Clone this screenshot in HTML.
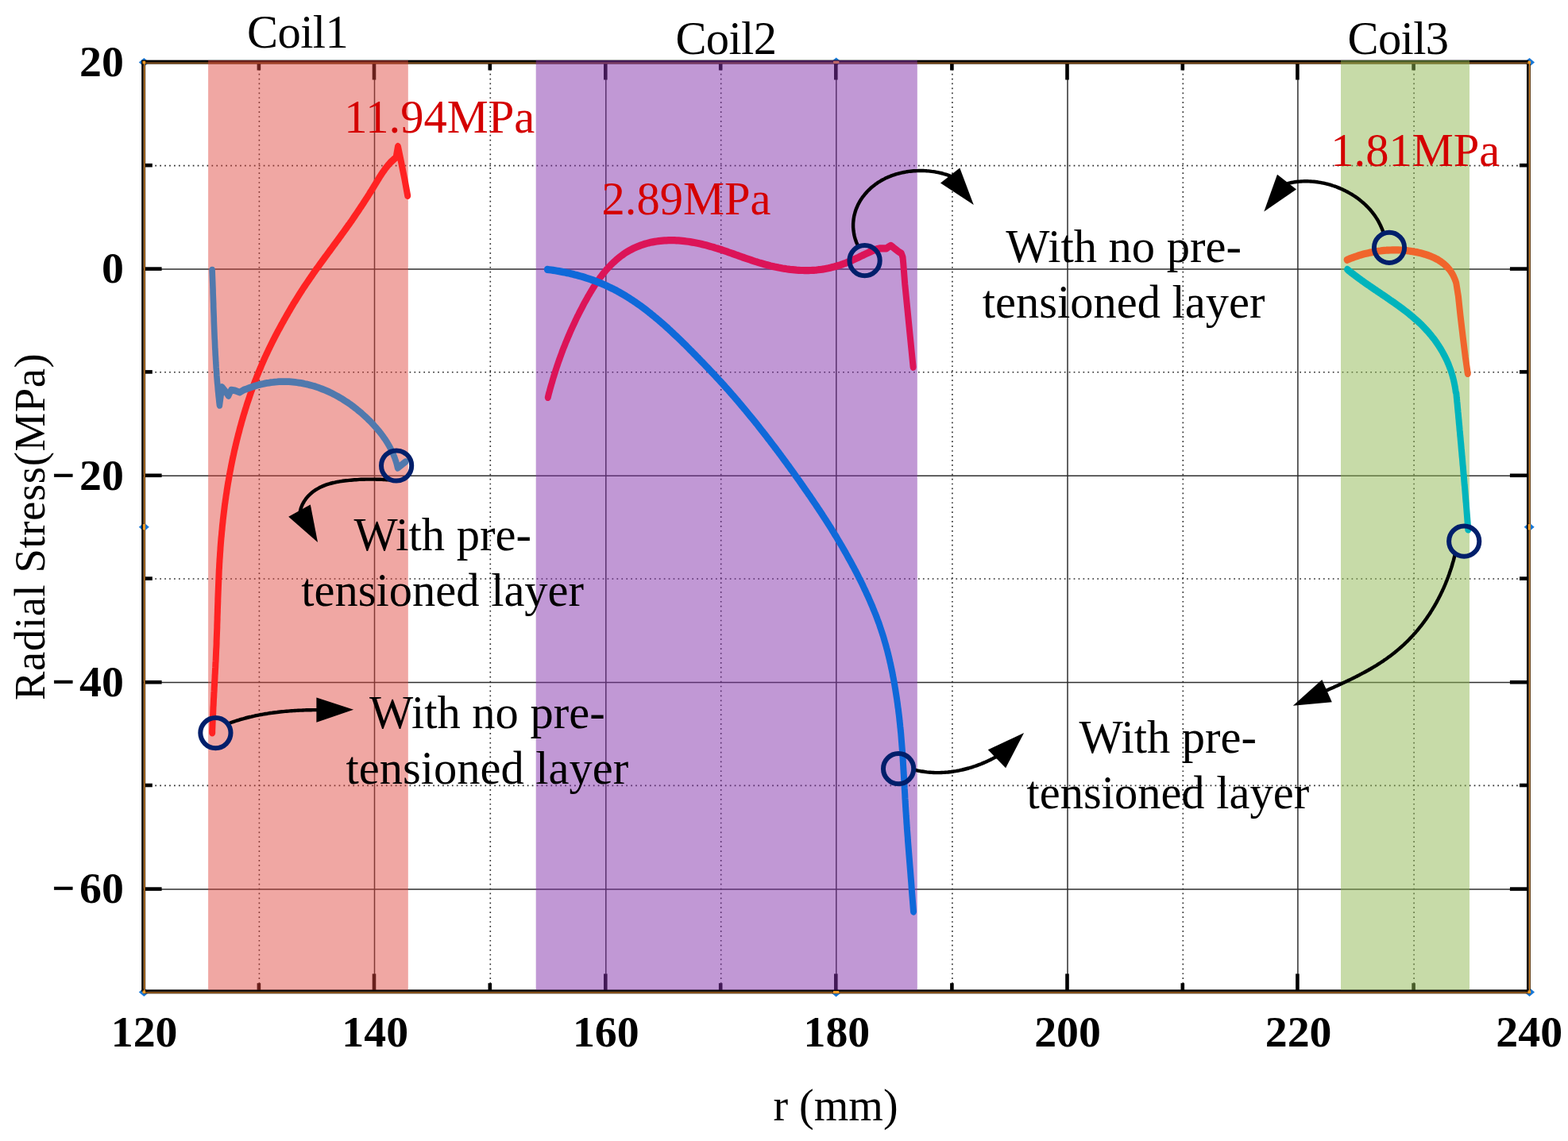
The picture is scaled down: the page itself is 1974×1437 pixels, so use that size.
<!DOCTYPE html>
<html lang="en"><head><meta charset="utf-8"><title>Radial Stress</title>
<style>html,body{margin:0;padding:0;background:#fff}body{width:1974px;height:1437px;overflow:hidden}svg{display:block}text{font-family:"Liberation Serif","DejaVu Serif",serif;fill:#000}.tk{font-weight:bold;font-size:55.8px}.an{font-size:58.5px}.co{font-size:58.5px;letter-spacing:-0.6px}.rd{font-size:58.5px;fill:#d40000}.ax{font-size:56px}.yl{font-size:54.6px;letter-spacing:0.62px}</style></head><body>
<svg xmlns="http://www.w3.org/2000/svg" width="1974" height="1437" viewBox="0 0 1974 1437">
<rect width="1974" height="1437" fill="#fff"/>
<g>
<path d="M174.8,78.4 L181.3,72.9 L187.8,78.4 L181.3,83.9Z" fill="#1878d8"/>
<path d="M1919.0,78.4 L1925.5,72.9 L1932.0,78.4 L1925.5,83.9Z" fill="#1878d8"/>
<path d="M174.8,1249.5 L181.3,1244.0 L187.8,1249.5 L181.3,1255.0Z" fill="#1878d8"/>
<path d="M1919.0,1249.5 L1925.5,1244.0 L1932.0,1249.5 L1925.5,1255.0Z" fill="#1878d8"/>
<path d="M1046.2,78.0 L1052.7,72.5 L1059.2,78.0 L1052.7,83.5Z" fill="#1878d8"/>
<path d="M1046.1,1250.0 L1052.6,1244.5 L1059.1,1250.0 L1052.6,1255.5Z" fill="#1878d8"/>
<path d="M174.8,663.7 L181.3,658.2 L187.8,663.7 L181.3,669.2Z" fill="#1878d8"/>
<path d="M1918.7,663.8 L1925.2,658.3 L1931.7,663.8 L1925.2,669.3Z" fill="#1878d8"/>
</g>
<g fill="none" stroke="#2e2e2e" stroke-width="1.5">
<line x1="471.5" y1="76.9" x2="471.5" y2="1247.6"/>
<line x1="762.8" y1="76.9" x2="762.8" y2="1247.6"/>
<line x1="1052.8" y1="76.9" x2="1052.8" y2="1247.6"/>
<line x1="1344.0" y1="76.9" x2="1344.0" y2="1247.6"/>
<line x1="1633.9" y1="76.9" x2="1633.9" y2="1247.6"/>
<line x1="179.45" y1="339.0" x2="1923.25" y2="339.0"/>
<line x1="179.45" y1="599.2" x2="1923.25" y2="599.2"/>
<line x1="179.45" y1="859.6" x2="1923.25" y2="859.6"/>
<line x1="179.45" y1="1120.0" x2="1923.25" y2="1120.0"/>
</g>
<g fill="none" stroke="#2a2a2a" stroke-width="1.6" stroke-dasharray="1.7 4.23">
<line x1="326.4" y1="80.9" x2="326.4" y2="1247.6"/>
<line x1="617.3" y1="80.9" x2="617.3" y2="1247.6"/>
<line x1="907.7" y1="80.9" x2="907.7" y2="1247.6"/>
<line x1="1198.9" y1="80.9" x2="1198.9" y2="1247.6"/>
<line x1="1489.3" y1="80.9" x2="1489.3" y2="1247.6"/>
<line x1="1780.1" y1="80.9" x2="1780.1" y2="1247.6"/>
<line x1="183.45" y1="208.6" x2="1923.25" y2="208.6"/>
<line x1="183.45" y1="468.8" x2="1923.25" y2="468.8"/>
<line x1="183.45" y1="729.0" x2="1923.25" y2="729.0"/>
<line x1="183.45" y1="989.4" x2="1923.25" y2="989.4"/>
</g>
<g fill="none" stroke="#000" stroke-width="4.6">
<line x1="471.0" y1="80" x2="471.0" y2="100.5"/>
<line x1="471.0" y1="1226.4" x2="471.0" y2="1248"/>
<line x1="762.3" y1="80" x2="762.3" y2="100.5"/>
<line x1="762.3" y1="1226.4" x2="762.3" y2="1248"/>
<line x1="1052.3" y1="80" x2="1052.3" y2="100.5"/>
<line x1="1052.3" y1="1226.4" x2="1052.3" y2="1248"/>
<line x1="1343.5" y1="80" x2="1343.5" y2="100.5"/>
<line x1="1343.5" y1="1226.4" x2="1343.5" y2="1248"/>
<line x1="1633.4" y1="80" x2="1633.4" y2="100.5"/>
<line x1="1633.4" y1="1226.4" x2="1633.4" y2="1248"/>
<line x1="325.9" y1="80" x2="325.9" y2="88.5"/>
<line x1="325.9" y1="1238.2" x2="325.9" y2="1248"/>
<line x1="616.8" y1="80" x2="616.8" y2="88.5"/>
<line x1="616.8" y1="1238.2" x2="616.8" y2="1248"/>
<line x1="907.2" y1="80" x2="907.2" y2="88.5"/>
<line x1="907.2" y1="1238.2" x2="907.2" y2="1248"/>
<line x1="1198.4" y1="80" x2="1198.4" y2="88.5"/>
<line x1="1198.4" y1="1238.2" x2="1198.4" y2="1248"/>
<line x1="1488.8" y1="80" x2="1488.8" y2="88.5"/>
<line x1="1488.8" y1="1238.2" x2="1488.8" y2="1248"/>
<line x1="1779.6" y1="80" x2="1779.6" y2="88.5"/>
<line x1="1779.6" y1="1238.2" x2="1779.6" y2="1248"/>
<line x1="182" y1="338.6" x2="203.6" y2="338.6"/>
<line x1="1900.9" y1="338.6" x2="1923" y2="338.6"/>
<line x1="182" y1="598.8" x2="203.6" y2="598.8"/>
<line x1="1900.9" y1="598.8" x2="1923" y2="598.8"/>
<line x1="182" y1="859.2" x2="203.6" y2="859.2"/>
<line x1="1900.9" y1="859.2" x2="1923" y2="859.2"/>
<line x1="182" y1="1119.6" x2="203.6" y2="1119.6"/>
<line x1="1900.9" y1="1119.6" x2="1923" y2="1119.6"/>
<line x1="182" y1="208.2" x2="191.8" y2="208.2"/>
<line x1="1913" y1="208.2" x2="1923" y2="208.2"/>
<line x1="182" y1="468.4" x2="191.8" y2="468.4"/>
<line x1="1913" y1="468.4" x2="1923" y2="468.4"/>
<line x1="182" y1="728.6" x2="191.8" y2="728.6"/>
<line x1="1913" y1="728.6" x2="1923" y2="728.6"/>
<line x1="182" y1="989.0" x2="191.8" y2="989.0"/>
<line x1="1913" y1="989.0" x2="1923" y2="989.0"/>
</g>
<rect x="179.45" y="76.9" width="1743.80" height="1170.70" fill="none" stroke="#000" stroke-width="2.5"/>
<rect x="181.80" y="79.40" width="1743.80" height="1170.70" fill="none" stroke="#3e2208" stroke-width="2.7"/>
<path d="M181.80,79.40V1250.10M1925.60,79.40V1250.10" fill="none" stroke="#d48a30" stroke-width="1.2"/>
<path d="M181.80,79.40H1925.60" fill="none" stroke="#8a5620" stroke-width="1.0"/>
<path d="M181.80,1250.10H1925.60" fill="none" stroke="#c07a2a" stroke-width="1.0"/>
<g fill="#f59b25">
<rect x="179.5" y="76.8" width="3.6" height="3.6"/>
<rect x="1923.5" y="76.8" width="3.6" height="3.6"/>
<rect x="179.5" y="1247.5" width="3.6" height="3.6"/>
<rect x="1923.5" y="1247.5" width="3.6" height="3.6"/>
<rect x="1049.1" y="76.8" width="7.2" height="3.2"/>
<rect x="1049.0" y="1248.0" width="7.2" height="3.2"/>
<rect x="179.8" y="660.1" width="3.2" height="7.2"/>
<rect x="1923.7" y="660.2" width="3.2" height="7.2"/>
</g>
<g>
<rect x="262.1" y="76" width="251.7" height="1170.7" fill="#e0443c" fill-opacity="0.47"/>
<rect x="674.7" y="76" width="480.1" height="1170.7" fill="#8432ac" fill-opacity="0.5"/>
<rect x="1688" y="76" width="162.0" height="1170.7" fill="#90b852" fill-opacity="0.5"/>
</g>
<g transform="scale(1,1.15)">
<path d="M267.2,802.6 L267.2,800.4 L267.3,798.2 L267.4,796.1 L267.5,793.9 L267.6,791.7 L267.7,789.5 L267.8,787.3 L267.9,785.2 L268.1,783.0 L268.2,780.8 L268.3,778.6 L268.4,776.4 L268.5,774.3 L268.7,772.1 L268.8,769.9 L268.9,767.7 L269.0,765.6 L269.2,763.4 L269.3,761.2 L269.4,759.0 L269.6,756.8 L269.7,754.7 L269.8,752.5 L270.0,750.3 L270.1,748.1 L270.2,745.9 L270.4,743.8 L270.5,741.6 L270.6,739.4 L270.8,737.2 L270.9,735.0 L271.0,732.9 L271.2,730.7 L271.3,728.5 L271.4,726.3 L271.6,724.2 L271.7,722.0 L271.8,719.8 L271.9,717.6 L272.0,715.4 L272.1,713.3 L272.2,711.1 L272.4,708.9 L272.5,706.7 L272.6,704.5 L272.6,702.4 L272.7,700.2 L272.8,698.0 L272.9,695.8 L273.0,693.6 L273.1,691.4 L273.2,689.3 L273.3,687.1 L273.3,684.9 L273.4,682.7 L273.5,680.5 L273.6,678.4 L273.6,676.2 L273.7,674.0 L273.8,671.8 L273.9,669.6 L273.9,667.5 L274.0,665.3 L274.1,663.1 L274.2,660.9 L274.3,658.7 L274.3,656.5 L274.4,654.4 L274.5,652.2 L274.6,650.0 L274.7,647.8 L274.8,645.6 L274.9,643.5 L275.0,641.3 L275.1,639.1 L275.2,636.9 L275.3,634.7 L275.4,632.6 L275.5,630.4 L275.6,628.2 L275.7,626.0 L275.8,623.8 L276.0,621.7 L276.1,619.5 L276.2,617.3 L276.4,615.1 L276.5,612.9 L276.7,610.8 L276.9,608.6 L277.0,606.4 L277.2,604.2 L277.4,602.1 L277.5,599.9 L277.7,597.7 L277.9,595.5 L278.1,593.4 L278.3,591.2 L278.5,589.0 L278.8,586.8 L279.0,584.7 L279.2,582.5 L279.5,580.3 L279.7,578.1 L279.9,576.0 L280.2,573.8 L280.5,571.6 L280.7,569.5 L281.0,567.3 L281.3,565.1 L281.6,563.0 L281.9,560.8 L282.2,558.6 L282.5,556.5 L282.8,554.3 L283.1,552.1 L283.5,550.0 L283.8,547.8 L284.2,545.7 L284.5,543.5 L284.9,541.3 L285.3,539.2 L285.6,537.0 L286.0,534.9 L286.4,532.7 L286.8,530.6 L287.2,528.4 L287.7,526.3 L288.1,524.1 L288.5,522.0 L289.0,519.8 L289.4,517.7 L289.9,515.5 L290.4,513.4 L290.8,511.3 L291.3,509.1 L291.8,507.0 L292.3,504.8 L292.8,502.7 L293.3,500.6 L293.9,498.4 L294.4,496.3 L294.9,494.2 L295.5,492.0 L296.1,489.9 L296.6,487.8 L297.2,485.7 L297.8,483.5 L298.4,481.4 L299.0,479.3 L299.6,477.2 L300.2,475.1 L300.9,473.0 L301.5,470.8 L302.1,468.7 L302.8,466.6 L303.5,464.5 L304.1,462.4 L304.8,460.3 L305.5,458.2 L306.2,456.1 L306.9,454.0 L307.7,451.9 L308.4,449.8 L309.1,447.8 L309.9,445.7 L310.6,443.6 L311.4,441.5 L312.2,439.4 L313.0,437.4 L313.8,435.3 L314.6,433.2 L315.4,431.2 L316.2,429.1 L317.1,427.1 L317.9,425.0 L318.8,423.0 L319.6,420.9 L320.5,418.9 L321.4,416.8 L322.3,414.8 L323.2,412.8 L324.2,410.7 L325.1,408.7 L326.0,406.7 L327.0,404.7 L328.0,402.7 L328.9,400.7 L329.9,398.7 L330.9,396.7 L331.9,394.7 L332.9,392.7 L334.0,390.7 L335.0,388.7 L336.1,386.7 L337.1,384.8 L338.2,382.8 L339.3,380.8 L340.4,378.9 L341.5,376.9 L342.6,375.0 L343.7,373.0 L344.9,371.1 L346.0,369.1 L347.2,367.2 L348.3,365.3 L349.5,363.3 L350.7,361.4 L351.9,359.5 L353.1,357.6 L354.3,355.7 L355.5,353.8 L356.7,351.9 L357.9,350.0 L359.2,348.1 L360.4,346.2 L361.7,344.3 L362.9,342.4 L364.2,340.5 L365.5,338.6 L366.7,336.7 L368.0,334.9 L369.3,333.0 L370.6,331.1 L371.9,329.3 L373.3,327.4 L374.6,325.5 L375.9,323.7 L377.3,321.8 L378.6,320.0 L380.0,318.2 L381.3,316.3 L382.7,314.5 L384.1,312.7 L385.5,310.9 L386.9,309.1 L388.3,307.3 L389.7,305.5 L391.1,303.7 L392.6,301.9 L394.0,300.1 L395.4,298.3 L396.9,296.5 L398.3,294.7 L399.8,293.0 L401.3,291.2 L402.7,289.4 L404.2,287.7 L405.7,285.9 L407.2,284.1 L408.6,282.4 L410.1,280.6 L411.6,278.9 L413.1,277.1 L414.6,275.3 L416.1,273.6 L417.6,271.8 L419.0,270.1 L420.5,268.3 L422.0,266.6 L423.5,264.8 L425.0,263.1 L426.5,261.3 L428.0,259.5 L429.4,257.8 L430.9,256.0 L432.4,254.2 L433.8,252.5 L435.3,250.7 L436.8,248.9 L438.2,247.1 L439.7,245.4 L441.1,243.6 L442.6,241.8 L444.0,240.0 L445.4,238.2 L446.8,236.4 L448.2,234.6 L449.6,232.8 L451.0,231.0 L452.4,229.2 L453.8,227.3 L455.2,225.5 L456.6,223.7 L457.9,221.9 L459.3,220.0 L460.7,218.2 L462.0,216.4 L463.4,214.5 L464.7,212.7 L466.0,210.8 L467.4,209.0 L468.7,207.1 L470.0,205.2 L471.3,203.4 L472.6,201.5 L473.9,199.6 L475.2,197.8 L476.5,195.9 L477.8,194.0 L479.2,192.2 L480.5,190.4 L481.9,188.6 L483.4,186.8 L484.8,185.0 L486.3,183.3 L487.9,181.6 L489.5,180.0 L491.2,178.3 L492.9,176.8 L494.8,175.3 L496.7,173.8 L498.6,172.4 L501.0,160.4 L504.8,176.4 L509.4,196.3 L513.2,214.3" fill="none" stroke="#ff2222" stroke-width="8.0" stroke-linecap="round" stroke-linejoin="round"/>
<path d="M267.1,295.7 L267.2,297.9 L267.3,300.1 L267.4,302.3 L267.5,304.5 L267.6,306.7 L267.7,308.9 L267.8,311.2 L267.9,313.4 L268.0,315.6 L268.1,317.8 L268.1,320.0 L268.2,322.2 L268.3,324.4 L268.4,326.7 L268.5,328.9 L268.6,331.1 L268.7,333.3 L268.7,335.5 L268.8,337.8 L268.9,340.0 L269.0,342.2 L269.1,344.4 L269.2,346.6 L269.3,348.8 L269.3,351.1 L269.4,353.3 L269.5,355.5 L269.6,357.7 L269.7,359.9 L269.8,362.1 L269.9,364.4 L270.0,366.6 L270.1,368.8 L270.2,371.0 L270.4,373.2 L270.5,375.4 L270.6,377.7 L270.7,379.9 L270.8,382.1 L271.0,384.3 L271.1,386.5 L271.2,388.7 L271.4,390.9 L271.5,393.2 L271.7,395.4 L271.8,397.6 L272.0,399.8 L272.1,402.0 L272.3,404.2 L272.5,406.4 L272.7,408.6 L272.8,410.9 L273.0,413.1 L273.2,415.3 L273.4,417.5 L273.6,419.7 L273.9,421.9 L274.1,424.1 L274.3,426.3 L274.5,428.5 L274.8,430.7 L275.0,432.9 L275.3,435.1 L275.6,437.3 L275.8,439.5 L276.1,441.7 L276.4,443.9 L279.5,423.9 L283.5,428.3 L287.6,433.5 L291.0,427.0 L295.9,427.7 L301.8,429.7 L306.8,427.0 L309.2,426.4 L311.6,425.6 L314.0,424.8 L316.4,424.0 L318.8,423.3 L321.3,422.6 L323.8,422.0 L326.2,421.4 L328.7,420.9 L331.2,420.4 L333.7,419.9 L336.2,419.5 L338.7,419.2 L341.2,418.8 L343.7,418.6 L346.3,418.3 L348.8,418.2 L351.3,418.0 L353.8,417.9 L356.4,417.9 L358.9,417.9 L361.4,417.9 L363.9,418.0 L366.4,418.2 L368.9,418.4 L371.5,418.6 L374.0,418.9 L376.4,419.2 L378.9,419.5 L381.4,419.9 L383.9,420.4 L386.4,420.8 L388.8,421.4 L391.3,421.9 L393.7,422.5 L396.1,423.1 L398.5,423.8 L400.9,424.5 L403.3,425.3 L405.7,426.1 L408.0,426.9 L410.4,427.7 L412.7,428.6 L415.0,429.5 L417.3,430.5 L419.6,431.5 L421.8,432.5 L424.1,433.6 L426.3,434.6 L428.5,435.8 L430.7,436.9 L432.9,438.1 L435.0,439.3 L437.2,440.5 L439.3,441.8 L441.4,443.0 L443.4,444.4 L445.5,445.7 L447.5,447.1 L449.5,448.4 L451.5,449.9 L453.5,451.3 L455.4,452.7 L457.3,454.2 L459.2,455.7 L461.1,457.2 L463.0,458.8 L464.8,460.4 L466.6,461.9 L468.3,463.5 L470.1,465.1 L471.8,466.8 L473.5,468.4 L475.1,470.1 L476.8,471.8 L478.4,473.5 L479.9,475.2 L481.4,477.0 L482.9,478.8 L484.4,480.6 L485.8,482.4 L487.1,484.2 L488.4,486.1 L489.7,488.0 L490.9,489.9 L492.1,491.8 L493.2,493.7 L494.2,495.7 L495.2,497.7 L496.2,499.8 L497.1,501.8 L497.9,503.9 L498.7,506.0 L499.4,508.1 L500.0,510.3 L500.6,512.5 L510.5,505.7" fill="none" stroke="#5079ad" stroke-width="7.6" stroke-linecap="round" stroke-linejoin="round"/>
<path d="M689.8,435.2 L690.4,433.1 L691.0,430.9 L691.7,428.8 L692.3,426.7 L693.0,424.6 L693.7,422.4 L694.4,420.3 L695.1,418.2 L695.8,416.1 L696.5,414.0 L697.3,411.9 L698.0,409.8 L698.8,407.7 L699.5,405.6 L700.3,403.6 L701.1,401.5 L701.9,399.4 L702.7,397.3 L703.5,395.3 L704.4,393.2 L705.2,391.2 L706.1,389.1 L707.0,387.0 L707.8,385.0 L708.7,383.0 L709.6,380.9 L710.6,378.9 L711.5,376.9 L712.4,374.8 L713.4,372.8 L714.4,370.8 L715.3,368.8 L716.3,366.8 L717.3,364.7 L718.3,362.7 L719.4,360.7 L720.4,358.7 L721.4,356.8 L722.5,354.8 L723.6,352.8 L724.6,350.8 L725.7,348.8 L726.8,346.8 L728.0,344.9 L729.1,342.9 L730.2,341.0 L731.4,339.0 L732.6,337.0 L733.7,335.1 L734.9,333.1 L736.1,331.2 L737.3,329.3 L738.6,327.3 L739.8,325.4 L741.1,323.5 L742.4,321.6 L743.6,319.7 L745.0,317.8 L746.3,315.9 L747.6,314.1 L749.0,312.2 L750.4,310.4 L751.8,308.6 L753.3,306.8 L754.7,305.0 L756.2,303.2 L757.7,301.5 L759.3,299.8 L760.9,298.1 L762.5,296.4 L764.1,294.8 L765.8,293.2 L767.5,291.6 L769.2,290.0 L771.0,288.5 L772.8,287.0 L774.7,285.5 L776.5,284.1 L778.5,282.7 L780.4,281.3 L782.4,280.0 L784.5,278.7 L786.5,277.4 L788.6,276.2 L790.8,275.1 L793.0,274.0 L795.2,273.0 L797.5,272.0 L799.8,271.1 L802.1,270.2 L804.4,269.4 L806.8,268.6 L809.2,267.9 L811.7,267.2 L814.1,266.6 L816.6,266.0 L819.0,265.5 L821.5,265.1 L824.0,264.7 L826.5,264.3 L829.0,264.0 L831.5,263.8 L834.0,263.6 L836.5,263.4 L839.0,263.3 L841.5,263.2 L844.0,263.2 L846.6,263.2 L849.1,263.2 L851.6,263.3 L854.1,263.4 L856.6,263.6 L859.1,263.8 L861.6,264.0 L864.1,264.3 L866.6,264.6 L869.0,264.9 L871.5,265.3 L874.0,265.7 L876.5,266.1 L879.0,266.5 L881.4,267.0 L883.9,267.5 L886.3,268.0 L888.8,268.5 L891.2,269.1 L893.7,269.7 L896.1,270.3 L898.5,270.9 L900.9,271.6 L903.3,272.2 L905.7,272.9 L908.1,273.5 L910.5,274.2 L912.9,274.9 L915.2,275.6 L917.6,276.4 L920.0,277.1 L922.4,277.8 L924.7,278.5 L927.1,279.3 L929.5,280.0 L931.8,280.7 L934.2,281.5 L936.6,282.2 L938.9,282.9 L941.3,283.6 L943.7,284.3 L946.1,285.0 L948.5,285.7 L950.9,286.4 L953.3,287.0 L955.7,287.7 L958.1,288.3 L960.6,288.9 L963.0,289.5 L965.4,290.1 L967.9,290.6 L970.4,291.2 L972.8,291.7 L975.3,292.2 L977.8,292.6 L980.3,293.1 L982.8,293.5 L985.3,293.9 L987.8,294.2 L990.3,294.6 L992.8,294.9 L995.3,295.2 L997.9,295.4 L1000.4,295.6 L1002.9,295.8 L1005.4,295.9 L1007.9,296.1 L1010.5,296.1 L1013.0,296.2 L1015.5,296.2 L1018.0,296.2 L1020.5,296.1 L1023.0,296.0 L1025.5,295.9 L1028.0,295.7 L1030.5,295.4 L1033.0,295.2 L1035.5,294.9 L1037.9,294.5 L1040.4,294.1 L1042.8,293.7 L1045.3,293.2 L1047.7,292.7 L1050.1,292.2 L1052.6,291.6 L1055.0,290.9 L1057.4,290.3 L1059.8,289.6 L1062.1,288.8 L1064.5,288.1 L1066.8,287.3 L1069.2,286.4 L1071.5,285.6 L1073.8,284.7 L1076.1,283.7 L1078.4,282.8 L1080.7,281.9 L1083.0,280.9 L1085.3,279.9 L1087.6,279.0 L1089.8,278.0 L1092.1,277.1 L1094.4,276.2 L1096.7,275.3 L1099.0,274.4 L1101.3,273.6 L1103.6,272.8 L1107.0,272.1 L1116.0,272.0 L1119.0,270.1 L1121.6,269.0 L1124.6,271.0 L1130.4,275.1 L1134.9,277.7 L1136.5,281.7 L1137.2,288.3 L1139.2,310.8 L1142.3,338.0 L1145.4,365.2 L1147.5,383.4 L1149.6,402.0" fill="none" stroke="#dc1458" stroke-width="8.0" stroke-linecap="round" stroke-linejoin="round"/>
<path d="M688.9,295.1 L691.4,295.4 L693.9,295.7 L696.4,296.0 L698.9,296.3 L701.4,296.7 L703.9,297.1 L706.4,297.5 L708.9,297.9 L711.3,298.3 L713.8,298.8 L716.3,299.2 L718.7,299.7 L721.2,300.2 L723.6,300.8 L726.1,301.3 L728.5,301.9 L730.9,302.5 L733.3,303.1 L735.7,303.7 L738.1,304.4 L740.5,305.1 L742.9,305.8 L745.2,306.5 L747.6,307.2 L749.9,308.0 L752.3,308.8 L754.6,309.6 L756.9,310.4 L759.2,311.3 L761.5,312.1 L763.8,313.0 L766.1,314.0 L768.3,314.9 L770.5,315.9 L772.8,316.8 L775.0,317.8 L777.2,318.9 L779.4,319.9 L781.5,321.0 L783.7,322.1 L785.9,323.2 L788.0,324.3 L790.1,325.4 L792.2,326.6 L794.3,327.8 L796.4,329.0 L798.5,330.2 L800.6,331.4 L802.6,332.7 L804.7,333.9 L806.7,335.2 L808.7,336.5 L810.7,337.8 L812.7,339.1 L814.7,340.4 L816.7,341.8 L818.7,343.1 L820.6,344.5 L822.6,345.9 L824.5,347.3 L826.5,348.7 L828.4,350.1 L830.3,351.5 L832.2,352.9 L834.1,354.4 L836.0,355.8 L837.9,357.3 L839.7,358.7 L841.6,360.2 L843.4,361.7 L845.3,363.2 L847.1,364.7 L848.9,366.2 L850.8,367.7 L852.6,369.2 L854.4,370.7 L856.2,372.2 L858.0,373.7 L859.8,375.3 L861.6,376.8 L863.4,378.3 L865.2,379.9 L866.9,381.4 L868.7,383.0 L870.5,384.5 L872.2,386.1 L874.0,387.7 L875.8,389.2 L877.5,390.8 L879.3,392.3 L881.0,393.9 L882.8,395.5 L884.5,397.0 L886.3,398.6 L888.0,400.2 L889.8,401.8 L891.5,403.3 L893.2,404.9 L894.9,406.5 L896.7,408.1 L898.4,409.7 L900.1,411.3 L901.8,412.9 L903.5,414.5 L905.2,416.1 L906.9,417.7 L908.6,419.3 L910.3,420.9 L911.9,422.5 L913.6,424.2 L915.3,425.8 L917.0,427.4 L918.6,429.1 L920.3,430.7 L921.9,432.3 L923.6,434.0 L925.2,435.6 L926.8,437.3 L928.5,438.9 L930.1,440.6 L931.7,442.2 L933.3,443.9 L934.9,445.6 L936.5,447.3 L938.2,448.9 L939.7,450.6 L941.3,452.3 L942.9,454.0 L944.5,455.7 L946.1,457.3 L947.7,459.0 L949.3,460.7 L950.8,462.4 L952.4,464.1 L954.0,465.8 L955.5,467.5 L957.1,469.3 L958.6,471.0 L960.2,472.7 L961.7,474.4 L963.3,476.1 L964.8,477.8 L966.3,479.6 L967.9,481.3 L969.4,483.0 L970.9,484.8 L972.4,486.5 L973.9,488.2 L975.4,490.0 L977.0,491.7 L978.5,493.5 L980.0,495.2 L981.5,497.0 L983.0,498.7 L984.5,500.5 L985.9,502.2 L987.4,504.0 L988.9,505.7 L990.4,507.5 L991.9,509.3 L993.4,511.0 L994.8,512.8 L996.3,514.6 L997.8,516.3 L999.2,518.1 L1000.7,519.9 L1002.2,521.7 L1003.6,523.5 L1005.1,525.2 L1006.5,527.0 L1008.0,528.8 L1009.4,530.6 L1010.9,532.4 L1012.3,534.2 L1013.7,536.0 L1015.2,537.8 L1016.6,539.6 L1018.0,541.4 L1019.5,543.2 L1020.9,545.0 L1022.3,546.8 L1023.7,548.6 L1025.1,550.4 L1026.5,552.2 L1027.9,554.0 L1029.3,555.8 L1030.7,557.7 L1032.1,559.5 L1033.5,561.3 L1034.8,563.1 L1036.2,565.0 L1037.6,566.8 L1038.9,568.6 L1040.3,570.5 L1041.6,572.3 L1043.0,574.2 L1044.3,576.0 L1045.7,577.9 L1047.0,579.7 L1048.3,581.6 L1049.6,583.4 L1050.9,585.3 L1052.3,587.1 L1053.6,589.0 L1054.8,590.9 L1056.1,592.8 L1057.4,594.6 L1058.7,596.5 L1060.0,598.4 L1061.2,600.3 L1062.5,602.2 L1063.7,604.1 L1065.0,606.0 L1066.2,607.9 L1067.4,609.8 L1068.6,611.7 L1069.8,613.6 L1071.1,615.5 L1072.2,617.4 L1073.4,619.3 L1074.6,621.2 L1075.8,623.2 L1077.0,625.1 L1078.1,627.0 L1079.3,629.0 L1080.4,630.9 L1081.5,632.9 L1082.7,634.8 L1083.8,636.8 L1084.9,638.7 L1086.0,640.7 L1087.1,642.7 L1088.1,644.6 L1089.2,646.6 L1090.3,648.6 L1091.3,650.6 L1092.4,652.5 L1093.4,654.5 L1094.4,656.5 L1095.4,658.5 L1096.4,660.5 L1097.4,662.5 L1098.4,664.5 L1099.3,666.6 L1100.3,668.6 L1101.2,670.6 L1102.2,672.6 L1103.1,674.7 L1104.0,676.7 L1104.8,678.7 L1105.7,680.8 L1106.6,682.8 L1107.4,684.9 L1108.2,687.0 L1109.0,689.0 L1109.8,691.1 L1110.6,693.2 L1111.3,695.2 L1112.1,697.3 L1112.8,699.4 L1113.5,701.5 L1114.2,703.6 L1114.9,705.7 L1115.6,707.8 L1116.2,709.9 L1116.9,712.0 L1117.5,714.1 L1118.1,716.2 L1118.7,718.3 L1119.3,720.5 L1119.9,722.6 L1120.4,724.7 L1121.0,726.8 L1121.5,729.0 L1122.0,731.1 L1122.6,733.2 L1123.1,735.4 L1123.6,737.5 L1124.0,739.7 L1124.5,741.8 L1125.0,744.0 L1125.4,746.1 L1125.9,748.3 L1126.3,750.4 L1126.7,752.6 L1127.1,754.7 L1127.5,756.9 L1127.9,759.0 L1128.3,761.2 L1128.7,763.4 L1129.1,765.5 L1129.4,767.7 L1129.8,769.8 L1130.1,772.0 L1130.4,774.2 L1130.8,776.3 L1131.1,778.5 L1131.4,780.7 L1131.7,782.8 L1132.0,785.0 L1132.3,787.2 L1132.5,789.3 L1132.8,791.5 L1133.1,793.7 L1133.3,795.9 L1133.6,798.0 L1133.8,800.2 L1134.1,802.4 L1134.3,804.5 L1134.5,806.7 L1134.7,808.9 L1134.9,811.1 L1135.1,813.2 L1135.3,815.4 L1135.5,817.6 L1135.7,819.8 L1135.9,821.9 L1136.1,824.1 L1136.2,826.3 L1136.4,828.5 L1136.6,830.6 L1136.7,832.8 L1136.9,835.0 L1137.0,837.2 L1137.2,839.3 L1137.3,841.5 L1137.5,843.7 L1137.6,845.9 L1137.8,848.1 L1137.9,850.2 L1138.1,852.4 L1138.2,854.6 L1138.3,856.8 L1138.5,858.9 L1138.6,861.1 L1138.7,863.3 L1138.9,865.5 L1139.0,867.7 L1139.2,869.8 L1139.3,872.0 L1139.4,874.2 L1139.6,876.4 L1139.7,878.5 L1139.9,880.7 L1140.0,882.9 L1140.2,885.1 L1140.3,887.3 L1140.5,889.4 L1140.7,891.6 L1140.8,893.8 L1141.0,896.0 L1141.2,898.1 L1141.3,900.3 L1141.5,902.5 L1141.7,904.7 L1141.8,906.9 L1142.0,909.0 L1142.2,911.2 L1142.4,913.4 L1142.6,915.6 L1142.8,917.7 L1142.9,919.9 L1143.1,922.1 L1143.3,924.3 L1143.5,926.4 L1143.7,928.6 L1143.9,930.8 L1144.1,933.0 L1144.3,935.2 L1144.5,937.3 L1144.7,939.5 L1144.9,941.7 L1145.1,943.9 L1145.3,946.0 L1145.5,948.2 L1145.7,950.4 L1145.9,952.6 L1146.1,954.7 L1146.3,956.9 L1146.5,959.1 L1146.7,961.3 L1146.9,963.4 L1147.1,965.6 L1147.3,967.8 L1147.5,970.0 L1147.6,972.1 L1147.8,974.3 L1148.0,976.5 L1148.2,978.7 L1148.4,980.9 L1148.6,983.0 L1148.8,985.2 L1149.0,987.4 L1149.2,989.6 L1149.4,991.7 L1149.6,993.9 L1149.8,996.1 L1150.0,998.3" fill="none" stroke="#0f69d9" stroke-width="8.0" stroke-linecap="round" stroke-linejoin="round"/>
<path d="M1695.7,284.6 L1698.0,283.8 L1700.4,282.9 L1702.8,282.2 L1705.2,281.4 L1707.6,280.7 L1710.0,280.0 L1712.5,279.3 L1714.9,278.7 L1717.4,278.1 L1719.9,277.6 L1722.4,277.1 L1724.9,276.6 L1727.4,276.2 L1729.9,275.7 L1732.4,275.4 L1735.0,275.0 L1737.5,274.8 L1740.1,274.5 L1742.6,274.3 L1745.2,274.1 L1747.8,274.0 L1750.3,273.9 L1752.9,273.8 L1755.5,273.8 L1758.0,273.8 L1760.6,273.8 L1763.2,273.9 L1765.8,274.1 L1768.3,274.3 L1770.9,274.5 L1773.5,274.8 L1776.0,275.1 L1778.6,275.4 L1781.1,275.8 L1783.7,276.2 L1786.2,276.7 L1788.7,277.2 L1791.2,277.8 L1793.7,278.4 L1796.2,279.1 L1798.6,279.8 L1801.0,280.6 L1803.4,281.5 L1805.7,282.4 L1808.0,283.4 L1810.2,284.4 L1812.3,285.6 L1814.4,286.8 L1816.4,288.1 L1818.3,289.4 L1820.2,290.9 L1822.0,292.5 L1823.6,294.1 L1825.2,295.8 L1826.7,297.6 L1828.1,299.5 L1829.3,301.5 L1830.5,303.6 L1831.5,305.7 L1832.5,307.9 L1833.3,310.2 L1835.9,324.5 L1838.6,346.3 L1841.8,369.9 L1844.9,391.7 L1847.8,409.1" fill="none" stroke="#f0652c" stroke-width="8.0" stroke-linecap="round" stroke-linejoin="round"/>
<path d="M1696.2,295.1 L1698.1,296.5 L1700.1,297.9 L1702.1,299.2 L1704.1,300.5 L1706.1,301.9 L1708.1,303.2 L1710.1,304.5 L1712.2,305.8 L1714.2,307.1 L1716.3,308.3 L1718.4,309.6 L1720.4,310.9 L1722.5,312.1 L1724.6,313.4 L1726.7,314.6 L1728.8,315.9 L1730.9,317.1 L1733.0,318.3 L1735.1,319.6 L1737.2,320.8 L1739.3,322.1 L1741.4,323.3 L1743.5,324.5 L1745.6,325.8 L1747.7,327.0 L1749.8,328.3 L1751.9,329.6 L1754.0,330.8 L1756.0,332.1 L1758.1,333.4 L1760.2,334.7 L1762.2,336.0 L1764.3,337.3 L1766.3,338.6 L1768.4,340.0 L1770.4,341.3 L1772.4,342.7 L1774.4,344.1 L1776.3,345.5 L1778.3,346.9 L1780.2,348.3 L1782.1,349.8 L1784.0,351.2 L1785.9,352.7 L1787.7,354.2 L1789.5,355.7 L1791.3,357.3 L1793.1,358.9 L1794.8,360.5 L1796.5,362.1 L1798.2,363.7 L1799.8,365.4 L1801.4,367.0 L1803.0,368.8 L1804.6,370.5 L1806.1,372.2 L1807.6,374.0 L1809.0,375.8 L1810.4,377.6 L1811.8,379.4 L1813.1,381.3 L1814.4,383.1 L1815.7,385.0 L1816.9,387.0 L1818.1,388.9 L1819.3,390.8 L1820.4,392.8 L1821.5,394.8 L1822.5,396.8 L1823.5,398.8 L1824.4,400.9 L1825.3,402.9 L1826.2,405.0 L1827.0,407.1 L1827.8,409.2 L1828.5,411.3 L1829.2,413.5 L1829.8,415.6 L1830.4,417.8 L1830.9,420.0 L1831.4,422.2 L1831.9,424.4 L1832.3,426.7 L1832.6,428.9 L1833.4,430.9 L1833.6,433.1 L1833.8,435.3 L1834.1,437.6 L1834.3,439.8 L1834.6,442.0 L1834.8,444.2 L1835.0,446.5 L1835.3,448.7 L1835.5,450.9 L1835.8,453.1 L1836.0,455.4 L1836.2,457.6 L1836.5,459.8 L1836.7,462.0 L1836.9,464.3 L1837.2,466.5 L1837.4,468.7 L1837.6,470.9 L1837.9,473.2 L1838.1,475.4 L1838.3,477.6 L1838.6,479.8 L1838.8,482.1 L1839.0,484.3 L1839.3,486.5 L1839.5,488.7 L1839.7,491.0 L1839.9,493.2 L1840.2,495.4 L1840.4,497.6 L1840.6,499.9 L1840.9,502.1 L1841.1,504.3 L1841.3,506.5 L1841.5,508.8 L1841.8,511.0 L1842.0,513.2 L1842.2,515.4 L1842.4,517.7 L1842.6,519.9 L1842.9,522.1 L1843.1,524.3 L1843.3,526.6 L1843.5,528.8 L1843.7,531.0 L1844.0,533.2 L1844.2,535.5 L1844.4,537.7 L1844.6,539.9 L1844.8,542.1 L1845.0,544.4 L1845.2,546.6 L1845.4,548.8 L1845.7,551.0 L1845.9,553.3 L1846.1,555.5 L1846.3,557.7 L1846.5,559.9 L1846.7,562.2 L1846.9,564.4 L1847.1,566.6 L1847.3,568.9 L1847.5,571.1 L1847.7,573.3 L1847.9,575.5 L1848.1,577.8 L1848.3,580.0" fill="none" stroke="#00b4bc" stroke-width="8.0" stroke-linecap="round" stroke-linejoin="round"/>
</g>
<g>
<path d="M496.8,605.1 L494.8,604.9 L492.8,604.7 L490.8,604.6 L488.8,604.4 L486.8,604.3 L484.8,604.1 L482.8,604.0 L480.8,603.9 L478.8,603.8 L476.8,603.8 L474.7,603.7 L472.7,603.6 L470.7,603.6 L468.6,603.6 L466.6,603.6 L464.6,603.6 L462.5,603.6 L460.5,603.6 L458.4,603.7 L456.4,603.8 L454.3,603.8 L452.3,603.9 L450.2,604.1 L448.2,604.2 L446.1,604.3 L444.1,604.5 L442.0,604.7 L439.9,604.9 L437.9,605.1 L435.8,605.3 L433.8,605.5 L431.7,605.8 L429.7,606.1 L427.6,606.4 L425.6,606.8 L423.5,607.1 L421.5,607.6 L419.5,608.0 L417.5,608.5 L415.6,609.0 L413.6,609.6 L411.7,610.2 L409.7,610.9 L407.9,611.6 L406.0,612.4 L404.2,613.2 L402.3,614.1 L400.6,615.1 L398.8,616.1 L397.1,617.2 L395.4,618.3 L393.8,619.5 L392.2,620.8 L390.7,622.2 L389.2,623.6 L387.8,625.1 L386.4,626.6 L385.1,628.2 L383.9,629.9 L382.8,631.6 L381.8,633.4 L380.8,635.2 L380.0,637.1 L379.2,639.0 L378.6,641.0 L378.1,643.0 L377.7,645.1" fill="none" stroke="#000" stroke-width="4.4" stroke-linecap="butt" stroke-linejoin="round"/><path d="M400.0,682.9 L363.2,650.8 L390.8,635.5Z" fill="#000"/>
<path d="M287.0,911.4 L288.9,910.7 L290.9,910.0 L292.8,909.3 L294.8,908.7 L296.7,908.0 L298.7,907.4 L300.7,906.8 L302.6,906.2 L304.6,905.6 L306.6,905.1 L308.6,904.5 L310.5,904.0 L312.5,903.5 L314.5,903.0 L316.5,902.6 L318.5,902.1 L320.5,901.7 L322.5,901.2 L324.5,900.8 L326.5,900.4 L328.5,900.0 L330.5,899.7 L332.6,899.3 L334.6,899.0 L336.6,898.7 L338.6,898.3 L340.6,898.0 L342.7,897.8 L344.7,897.5 L346.7,897.2 L348.8,897.0 L350.8,896.7 L352.8,896.5 L354.9,896.3 L356.9,896.1 L359.0,895.9 L361.0,895.7 L363.0,895.6 L365.1,895.4 L367.1,895.2 L369.2,895.1 L371.2,895.0 L373.3,894.9 L375.3,894.7 L377.4,894.6 L379.4,894.6 L381.5,894.5 L383.5,894.4 L385.6,894.3 L387.6,894.3 L389.7,894.2 L391.7,894.2 L393.8,894.1 L395.9,894.1 L397.9,894.1 L400.0,894.1 L402.0,894.1" fill="none" stroke="#000" stroke-width="4.4" stroke-linecap="butt" stroke-linejoin="round"/><path d="M445.1,893.7 L398.4,878.4 L398.4,909.8Z" fill="#000"/>
<path d="M1080.8,310.9 L1079.8,308.8 L1078.9,306.8 L1078.0,304.8 L1077.3,302.7 L1076.6,300.7 L1076.0,298.6 L1075.5,296.5 L1075.1,294.5 L1074.8,292.4 L1074.5,290.4 L1074.3,288.3 L1074.1,286.3 L1074.1,284.3 L1074.1,282.2 L1074.2,280.2 L1074.4,278.2 L1074.6,276.2 L1074.9,274.3 L1075.2,272.3 L1075.7,270.4 L1076.2,268.5 L1076.7,266.6 L1077.3,264.7 L1078.0,262.8 L1078.8,261.0 L1079.6,259.2 L1080.4,257.4 L1081.3,255.7 L1082.3,253.9 L1083.3,252.2 L1084.4,250.6 L1085.5,248.9 L1086.7,247.3 L1087.9,245.8 L1089.2,244.2 L1090.5,242.7 L1091.8,241.2 L1093.2,239.8 L1094.7,238.4 L1096.1,237.0 L1097.6,235.7 L1099.2,234.4 L1100.8,233.2 L1102.4,231.9 L1104.1,230.8 L1105.7,229.6 L1107.5,228.6 L1109.2,227.5 L1111.0,226.5 L1112.8,225.6 L1114.6,224.6 L1116.4,223.8 L1118.3,222.9 L1120.2,222.2 L1122.1,221.4 L1124.0,220.7 L1126.0,220.1 L1127.9,219.4 L1129.9,218.9 L1131.9,218.3 L1133.9,217.8 L1135.9,217.4 L1137.9,217.0 L1140.0,216.6 L1142.0,216.2 L1144.0,215.9 L1146.1,215.7 L1148.2,215.5 L1150.2,215.3 L1152.3,215.2 L1154.4,215.1 L1156.4,215.0 L1158.5,215.0 L1160.6,215.0 L1162.6,215.0 L1164.7,215.1 L1166.7,215.3 L1168.8,215.4 L1170.8,215.6 L1172.8,215.9 L1174.9,216.1 L1176.9,216.4 L1178.9,216.8 L1180.8,217.2 L1182.8,217.6 L1184.7,218.0 L1186.7,218.5 L1188.6,219.1 L1190.5,219.6 L1192.3,220.2 L1194.2,220.8 L1196.0,221.5 L1197.8,222.2" fill="none" stroke="#000" stroke-width="4.4" stroke-linecap="butt" stroke-linejoin="round"/><path d="M1225.8,258.0 L1208.3,211.6 L1184.0,230.4Z" fill="#000"/>
<path d="M1150.7,969.4 L1152.7,969.9 L1154.7,970.4 L1156.7,970.8 L1158.7,971.2 L1160.8,971.5 L1162.8,971.8 L1164.8,972.1 L1166.9,972.4 L1168.9,972.6 L1170.9,972.7 L1173.0,972.9 L1175.0,973.0 L1177.1,973.1 L1179.1,973.1 L1181.1,973.1 L1183.2,973.1 L1185.2,973.0 L1187.3,972.9 L1189.3,972.8 L1191.3,972.6 L1193.4,972.5 L1195.4,972.2 L1197.4,972.0 L1199.4,971.7 L1201.5,971.4 L1203.5,971.1 L1205.5,970.7 L1207.5,970.4 L1209.5,969.9 L1211.5,969.5 L1213.5,969.0 L1215.5,968.5 L1217.4,968.0 L1219.4,967.5 L1221.4,966.9 L1223.3,966.3 L1225.3,965.6 L1227.2,965.0 L1229.2,964.3 L1231.1,963.6 L1233.0,962.9 L1234.9,962.2 L1236.8,961.4 L1238.7,960.6 L1240.6,959.8 L1242.5,958.9 L1244.3,958.1 L1246.2,957.2 L1248.0,956.3 L1249.8,955.4 L1251.6,954.4 L1253.4,953.5 L1255.2,952.5 L1257.0,951.5" fill="none" stroke="#000" stroke-width="4.4" stroke-linecap="butt" stroke-linejoin="round"/><path d="M1289.1,922.9 L1243.8,944.2 L1266.1,967.2Z" fill="#000"/>
<path d="M1741.8,293.5 L1741.1,291.5 L1740.4,289.6 L1739.6,287.7 L1738.8,285.8 L1738.0,284.0 L1737.1,282.2 L1736.2,280.4 L1735.2,278.6 L1734.2,276.8 L1733.1,275.1 L1732.0,273.4 L1730.9,271.7 L1729.7,270.1 L1728.5,268.5 L1727.2,266.9 L1725.9,265.3 L1724.6,263.8 L1723.2,262.3 L1721.8,260.8 L1720.4,259.4 L1718.9,257.9 L1717.4,256.5 L1715.9,255.2 L1714.3,253.9 L1712.8,252.6 L1711.2,251.3 L1709.5,250.0 L1707.9,248.8 L1706.2,247.7 L1704.4,246.5 L1702.7,245.4 L1701.0,244.3 L1699.2,243.3 L1697.4,242.3 L1695.5,241.3 L1693.7,240.3 L1691.8,239.4 L1690.0,238.5 L1688.1,237.7 L1686.2,236.9 L1684.2,236.1 L1682.3,235.3 L1680.4,234.6 L1678.4,234.0 L1676.4,233.3 L1674.4,232.7 L1672.4,232.2 L1670.4,231.6 L1668.4,231.2 L1666.4,230.7 L1664.4,230.3 L1662.4,229.9 L1660.3,229.6 L1658.3,229.3 L1656.3,229.0 L1654.2,228.8 L1652.2,228.6 L1650.1,228.5 L1648.1,228.4 L1646.0,228.3 L1644.0,228.3 L1642.0,228.3 L1639.9,228.4 L1637.9,228.5 L1635.9,228.6 L1633.9,228.8 L1631.9,229.0 L1629.9,229.3 L1627.9,229.6 L1625.9,230.0 L1623.9,230.4 L1622.0,230.8 L1620.0,231.3 L1618.1,231.9" fill="none" stroke="#000" stroke-width="4.4" stroke-linecap="butt" stroke-linejoin="round"/><path d="M1591.3,266.4 L1608.0,219.8 L1632.0,238.6Z" fill="#000"/>
<path d="M1831.9,697.6 L1831.4,699.6 L1830.9,701.6 L1830.4,703.6 L1829.9,705.6 L1829.3,707.6 L1828.7,709.5 L1828.2,711.5 L1827.6,713.5 L1827.0,715.4 L1826.3,717.4 L1825.7,719.3 L1825.0,721.2 L1824.4,723.2 L1823.7,725.1 L1823.0,727.0 L1822.2,728.9 L1821.5,730.8 L1820.7,732.7 L1820.0,734.6 L1819.2,736.5 L1818.4,738.3 L1817.6,740.2 L1816.7,742.1 L1815.9,743.9 L1815.0,745.7 L1814.1,747.6 L1813.3,749.4 L1812.3,751.2 L1811.4,753.0 L1810.5,754.8 L1809.5,756.6 L1808.6,758.4 L1807.6,760.2 L1806.6,761.9 L1805.6,763.7 L1804.5,765.4 L1803.5,767.1 L1802.4,768.9 L1801.3,770.6 L1800.3,772.3 L1799.2,774.0 L1798.0,775.6 L1796.9,777.3 L1795.8,779.0 L1794.6,780.6 L1793.4,782.2 L1792.2,783.9 L1791.0,785.5 L1789.8,787.1 L1788.6,788.6 L1787.3,790.2 L1786.0,791.8 L1784.8,793.3 L1783.5,794.9 L1782.2,796.4 L1780.8,797.9 L1779.5,799.4 L1778.1,800.9 L1776.8,802.4 L1775.4,803.8 L1774.0,805.3 L1772.6,806.7 L1771.2,808.1 L1769.7,809.5 L1768.3,810.9 L1766.8,812.3 L1765.3,813.6 L1763.9,815.0 L1762.3,816.3 L1760.8,817.6 L1759.3,818.9 L1757.7,820.2 L1756.2,821.5 L1754.6,822.8 L1753.0,824.0 L1751.4,825.2 L1749.8,826.4 L1748.2,827.6 L1746.6,828.8 L1744.9,830.0 L1743.2,831.1 L1741.6,832.3 L1739.9,833.4 L1738.2,834.5 L1736.5,835.6 L1734.8,836.7 L1733.1,837.8 L1731.3,838.8 L1729.6,839.9 L1727.9,840.9 L1726.1,842.0 L1724.3,843.0 L1722.6,844.0 L1720.8,845.0 L1719.0,846.0 L1717.2,847.0 L1715.4,847.9 L1713.6,848.9 L1711.8,849.8 L1710.0,850.8 L1708.2,851.7 L1706.4,852.6 L1704.6,853.6 L1702.7,854.5 L1700.9,855.4 L1699.1,856.3 L1697.2,857.1 L1695.4,858.0 L1693.6,858.9 L1691.7,859.8 L1689.9,860.6 L1688.0,861.5 L1686.2,862.3 L1684.3,863.2 L1682.5,864.0 L1680.7,864.8 L1678.8,865.7 L1677.0,866.5 L1675.1,867.3 L1673.3,868.1 L1671.5,868.9 L1669.6,869.8 L1667.8,870.6" fill="none" stroke="#000" stroke-width="4.4" stroke-linecap="butt" stroke-linejoin="round"/><path d="M1627.8,888.8 L1664.3,856.0 L1676.8,884.2Z" fill="#000"/>
</g>
<g fill="none" stroke="#001f6b" stroke-width="6.0">
<circle cx="499.1" cy="586.5" r="19.1"/>
<circle cx="271.4" cy="923.1" r="19.1"/>
<circle cx="1088.6" cy="328.2" r="19.1"/>
<circle cx="1131.1" cy="968.2" r="19.1"/>
<circle cx="1749.0" cy="311.8" r="19.1"/>
<circle cx="1843.2" cy="681.7" r="19.1"/>
</g>
<g>
<text class="tk" x="155.9" y="95.7" text-anchor="end">20</text>
<text class="tk" x="155.9" y="356.1" text-anchor="end">0</text>
<text class="tk" x="155.9" y="616.5" text-anchor="end">20</text>
<text class="tk" x="66.0" y="614.6" style="font-size:49px;stroke:#000;stroke-width:0.8px">−</text>
<text class="tk" x="155.9" y="876.9" text-anchor="end">40</text>
<text class="tk" x="66.0" y="875.0" style="font-size:49px;stroke:#000;stroke-width:0.8px">−</text>
<text class="tk" x="155.9" y="1137.3" text-anchor="end">60</text>
<text class="tk" x="66.0" y="1135.4" style="font-size:49px;stroke:#000;stroke-width:0.8px">−</text>
<text class="tk" x="181.6" y="1317.6" text-anchor="middle">120</text>
<text class="tk" x="472.2" y="1317.6" text-anchor="middle">140</text>
<text class="tk" x="762.8" y="1317.6" text-anchor="middle">160</text>
<text class="tk" x="1053.4" y="1317.6" text-anchor="middle">180</text>
<text class="tk" x="1344.0" y="1317.6" text-anchor="middle">200</text>
<text class="tk" x="1634.6" y="1317.6" text-anchor="middle">220</text>
<text class="tk" x="1925.2" y="1317.6" text-anchor="middle">240</text>
<text class="ax" x="1052" y="1410.5" text-anchor="middle">r (mm)</text>
<text class="yl" transform="translate(55.8,663.3) rotate(-90)" text-anchor="middle">Radial Stress(MPa)</text>
<text class="co" x="374.6" y="60.3" text-anchor="middle">Coil1</text>
<text class="co" x="913.9" y="68.2" text-anchor="middle">Coil2</text>
<text class="co" x="1760" y="68.2" text-anchor="middle">Coil3</text>
<text class="rd" x="553.2" y="166.7" text-anchor="middle">11.94MPa</text>
<text class="rd" x="864.0" y="269.9" text-anchor="middle">2.89MPa</text>
<text class="rd" x="1781.8" y="208.8" text-anchor="middle">1.81MPa</text>
<text class="an" x="1414.6" y="329.8" text-anchor="middle">With no pre-</text>
<text class="an" x="1414.6" y="399.8" text-anchor="middle">tensioned layer</text>
<text class="an" x="557.2" y="693.0" text-anchor="middle">With pre-</text>
<text class="an" x="557.2" y="762.6" text-anchor="middle">tensioned layer</text>
<text class="an" x="613.4" y="917.0" text-anchor="middle">With no pre-</text>
<text class="an" x="613.4" y="986.8" text-anchor="middle">tensioned layer</text>
<text class="an" x="1470.3" y="948.1" text-anchor="middle">With pre-</text>
<text class="an" x="1470.3" y="1018.3" text-anchor="middle">tensioned layer</text>
</g>
</svg></body></html>
